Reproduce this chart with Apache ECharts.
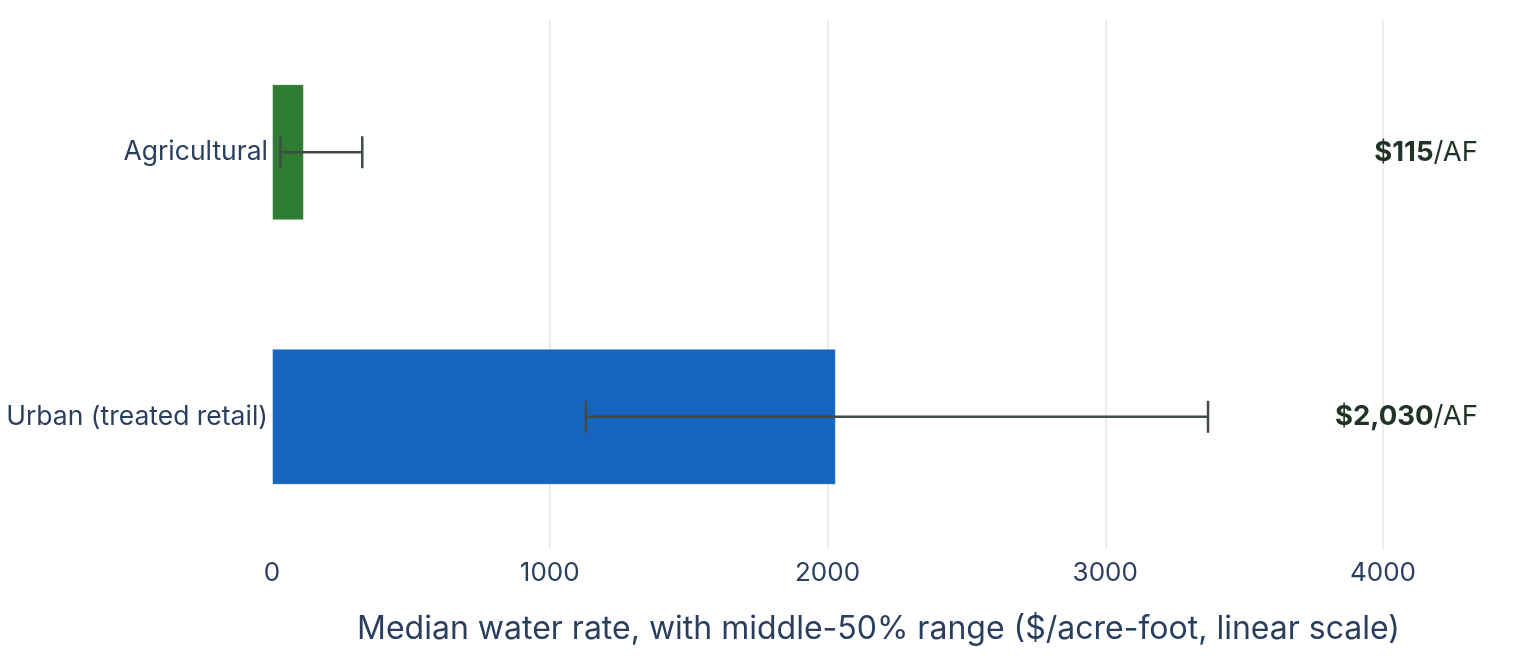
<!DOCTYPE html>
<html>
<head>
<meta charset="utf-8">
<script src="https://cdn.jsdelivr.net/npm/echarts@6/dist/echarts.min.js"></script>
<style>
html,body{margin:0;padding:0;background:#fff;}
#chart{width:1520px;height:660px;}
</style>
</head>
<body>
<div id="chart"></div>
<script>
const categories = ['Agricultural', 'Urban (treated retail)'];
const medians = [115, 2030];
const lows = [30, 1130];
const highs = [325, 3370];
const xTicks = [0, 1000, 2000, 3000, 4000];
const axisTitle = 'Median water rate, with middle-50% range ($/acre-foot, linear scale)';

const barColors = ['#2e7d32', '#1565c0'];
const font = 'Inter, "Noto Sans", sans-serif';

const chart = echarts.init(document.getElementById('chart'), null, {renderer: 'canvas'});

const errData = categories.map((c, i) => [i, lows[i], highs[i]]);

chart.setOption({
  animation: false,
  backgroundColor: '#ffffff',
  textStyle: {fontFamily: font},
  grid: {left: 272, right: 137, top: 20, bottom: 111, containLabel: false},
  xAxis: {
    type: 'value',
    min: xTicks[0],
    max: xTicks[xTicks.length - 1],
    interval: 1000,
    axisLine: {show: false},
    axisTick: {show: false},
    splitLine: {show: true, showMinLine: false, lineStyle: {color: '#ececec', width: 2}},
    axisLabel: {color: '#2a3f5f', fontSize: 26, margin: 11, fontFamily: font,
      formatter: function (v) { return String(v); }},
    name: axisTitle,
    nameLocation: 'middle',
    nameGap: 64,
    nameTextStyle: {color: '#2a3f5f', fontSize: 32, fontFamily: font, padding: [0, 0, 0, 102]}
  },
  yAxis: [{
    type: 'category',
    data: categories,
    inverse: true,
    axisLine: {show: false},
    axisTick: {show: false},
    splitLine: {show: false},
    axisLabel: {color: '#2a3f5f', fontSize: 26.5, margin: 4, fontFamily: font}
  }, {
    type: 'category',
    position: 'right',
    data: categories,
    inverse: true,
    axisLine: {show: false},
    axisTick: {show: false},
    splitLine: {show: false},
    axisLabel: {
      align: 'right',
      margin: 95,
      formatter: function (v, i) {
        return '{b|$' + medians[i].toLocaleString('en-US') + '}{r|/AF}';
      },
      rich: {
        b: {fontWeight: 'bold', color: '#1f3326', fontSize: 27.5, fontFamily: font},
        r: {color: '#1f3326', fontSize: 27.5, fontFamily: font}
      }
    }
  }],
  series: [{
    type: 'bar',
    yAxisIndex: 0,
    barWidth: '51.5%',
    data: medians.map((v, i) => ({
      value: v,
      itemStyle: {color: barColors[i], borderColor: 'rgba(255,255,255,0.45)', borderWidth: 1}
    }))
  }, {
    type: 'custom',
    yAxisIndex: 0,
    encode: {x: [1, 2], y: 0},
    data: errData,
    z: 10,
    renderItem: function (params, api) {
      const cat = api.value(0);
      const p0 = api.coord([api.value(1), cat]);
      const p1 = api.coord([api.value(2), cat]);
      const h = 16;
      const st = {stroke: '#424c47', lineWidth: 2.5};
      return {
        type: 'group',
        children: [
          {type: 'line', shape: {x1: p0[0], y1: p0[1], x2: p1[0], y2: p1[1]}, style: st},
          {type: 'line', shape: {x1: p0[0], y1: p0[1] - h, x2: p0[0], y2: p0[1] + h}, style: st},
          {type: 'line', shape: {x1: p1[0], y1: p1[1] - h, x2: p1[0], y2: p1[1] + h}, style: st}
        ]
      };
    }
  }]
});
</script>
</body>
</html>
